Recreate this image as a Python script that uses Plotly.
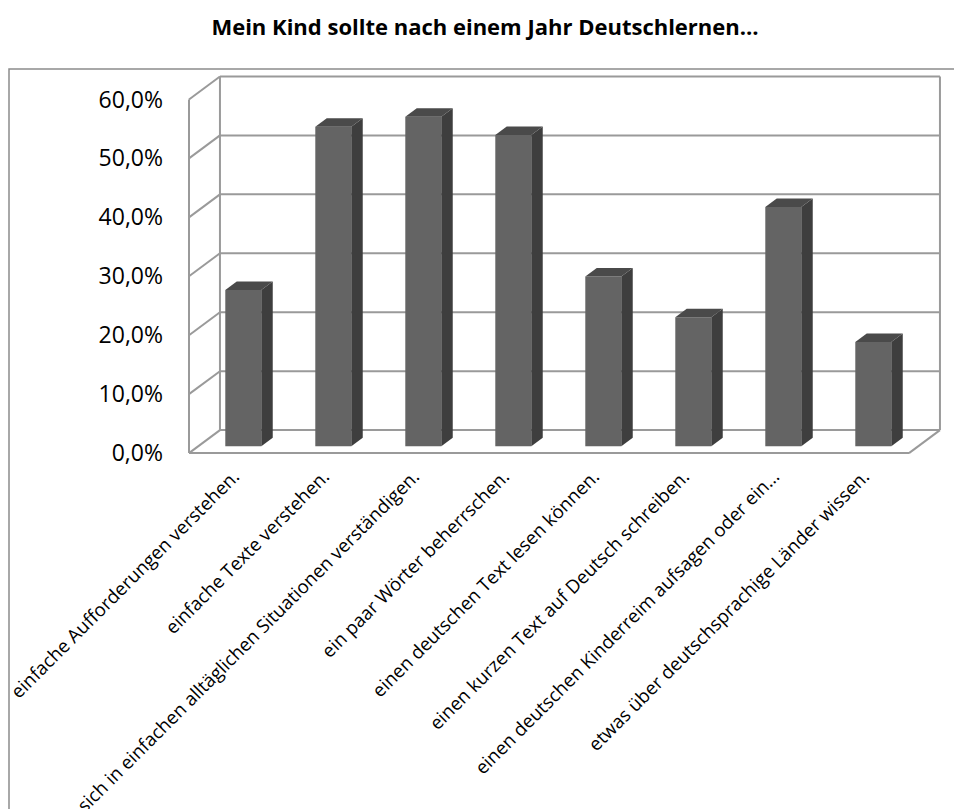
import plotly.graph_objects as go

# ---------------- data ----------------
title_text = "Mein Kind sollte nach einem Jahr Deutschlernen…"
categories = [
    "einfache Aufforderungen verstehen.",
    "einfache Texte verstehen.",
    "sich in einfachen alltäglichen Situationen verständigen.",
    "ein paar Wörter beherrschen.",
    "einen deutschen Text lesen können.",
    "einen kurzen Text auf Deutsch schreiben.",
    "einen deutschen Kinderreim aufsagen oder ein…",
    "etwas über deutschsprachige Länder wissen.",
]
values = [26.5, 54.2, 55.9, 52.8, 28.8, 21.9, 40.6, 17.7]
y_ticks = [0, 10, 20, 30, 40, 50, 60]
y_tick_labels = ["0,0%", "10,0%", "20,0%", "30,0%", "40,0%", "50,0%", "60,0%"]

# ---------------- 3D look geometry (style) ----------------
DX = 0.344      # depth offset in category units
DY = 3.9        # depth offset in value units
F0 = 0.30       # bar front face depth fraction
FD = 0.37       # bar depth fraction
BW = 0.40       # bar width
n = len(categories)
xs = list(range(n))

GRID = "#9a9a9a"
FRONT = "#646464"
SIDE = "#3e3e3e"
TOP = "#4a4a4a"

fig = go.Figure()

# front faces
fig.add_trace(go.Bar(
    x=[i + F0 * DX for i in xs], y=values, base=[F0 * DY] * n, width=BW,
    marker=dict(color=FRONT, line=dict(width=0)), showlegend=False, hoverinfo="skip"))

# side and top faces
for i, v in zip(xs, values):
    xl = i + F0 * DX - BW / 2
    xr = i + F0 * DX + BW / 2
    b = F0 * DY
    ddx, ddy = FD * DX, FD * DY
    fig.add_trace(go.Scatter(
        x=[xr, xr + ddx, xr + ddx, xr, xr], y=[b, b + ddy, b + v + ddy, b + v, b],
        mode="lines", fill="toself", fillcolor=SIDE, line=dict(width=0, color=SIDE),
        showlegend=False, hoverinfo="skip"))
    fig.add_trace(go.Scatter(
        x=[xl, xr, xr + ddx, xl + ddx, xl], y=[b + v, b + v, b + v + ddy, b + v + ddy, b + v],
        mode="lines", fill="toself", fillcolor=TOP, line=dict(width=0, color=TOP),
        showlegend=False, hoverinfo="skip"))

# walls and gridlines
shapes = []
x0 = -0.5
x1 = n - 0.5
ymax = y_ticks[-1]
ln = dict(color=GRID, width=2)
for t in y_ticks:
    shapes.append(dict(type="line", x0=x0, y0=t, x1=x0 + DX, y1=t + DY, line=ln, layer="below"))
    shapes.append(dict(type="line", x0=x0 + DX, y0=t + DY, x1=x1 + DX, y1=t + DY, line=ln, layer="below"))
shapes.append(dict(type="line", x0=x0, y0=0, x1=x0, y1=ymax, line=ln, layer="below"))
shapes.append(dict(type="line", x0=x0 + DX, y0=DY, x1=x0 + DX, y1=ymax + DY, line=ln, layer="below"))
shapes.append(dict(type="line", x0=x1 + DX, y0=DY, x1=x1 + DX, y1=ymax + DY, line=ln, layer="below"))
shapes.append(dict(type="line", x0=x0, y0=0, x1=x1, y1=0, line=ln, layer="below"))
shapes.append(dict(type="line", x0=x1, y0=0, x1=x1 + DX, y1=DY, line=ln, layer="below"))

# outer chart border (paper coords)
L, R, T, B = 184, 10, 70, 350
W, H = 954, 809
pw, ph = W - L - R, H - T - B
def px2paper_x(p):
    return (p - L) / pw
def py2paper_y(p):
    return (H - B - p) / ph
shapes.append(dict(type="rect", xref="paper", yref="paper",
                   x0=px2paper_x(9), x1=px2paper_x(957),
                   y0=py2paper_y(815), y1=py2paper_y(69),
                   line=dict(color="#8c8c8c", width=1.5), fillcolor="rgba(0,0,0,0)", layer="below"))

xr_min = -0.5 - 5 / 90
xr_max = xr_min + pw / 90
yr_min = -1
yr_max = 65

fig.update_layout(
    width=W, height=H,
    margin=dict(l=L, r=R, t=T, b=B, autoexpand=False),
    paper_bgcolor="white", plot_bgcolor="rgba(0,0,0,0)",
    shapes=shapes,
    barmode="overlay",
    title=dict(text="<b>" + title_text + "</b>", x=485 / W, xref="container",
               y=1 - 27 / H, yref="container", xanchor="center", yanchor="middle",
               font=dict(family="Open Sans", size=22, color="#000000")),
    xaxis=dict(range=[xr_min, xr_max], tickvals=xs, ticktext=categories, tickangle=-45,
               showgrid=False, zeroline=False, showline=False, ticks="",
               tickfont=dict(family="Open Sans", size=18.6, color="#000000"),
               ticklabelstandoff=2, fixedrange=True),
    yaxis=dict(range=[yr_min, yr_max], tickvals=y_ticks, ticktext=y_tick_labels,
               showgrid=False, zeroline=False, showline=False, ticks="",
               tickfont=dict(family="Open Sans", size=23, color="#000000"),
               ticklabelstandoff=20, fixedrange=True),
)

fig.write_html("out.html")
